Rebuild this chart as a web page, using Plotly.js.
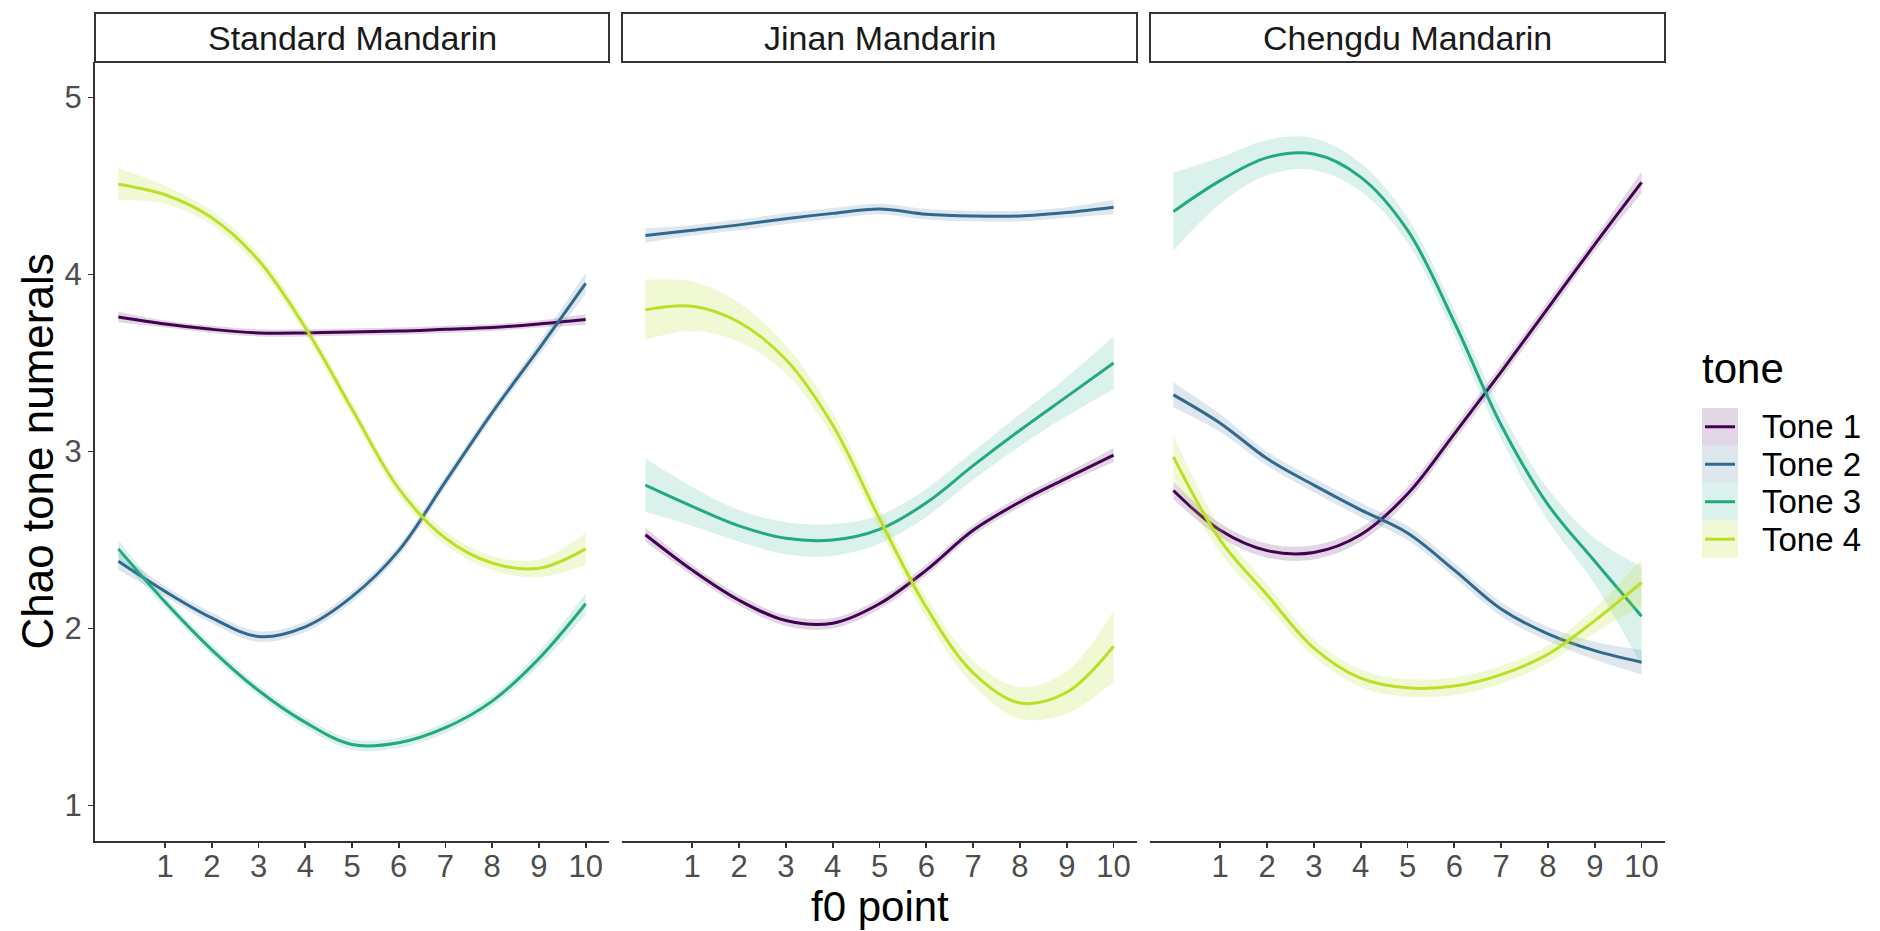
<!DOCTYPE html>
<html><head><meta charset="utf-8">
<script src="https://cdn.plot.ly/plotly-3.0.1.min.js"></script>
<style>html,body{margin:0;padding:0;background:#fff}#chart{width:1880px;height:931px}</style>
</head><body><div id="chart"></div>
<script>
// ---------- data ----------
const points = [0, 1, 2, 3, 4, 5, 6, 7, 8, 9, 10];
const xTickValues = [1, 2, 3, 4, 5, 6, 7, 8, 9, 10];
const yTickValues = [1, 2, 3, 4, 5];
const dialects = ["Standard Mandarin", "Jinan Mandarin", "Chengdu Mandarin"];
const tones = ["Tone 1", "Tone 2", "Tone 3", "Tone 4"];

// smoothed mean (Chao tone numerals) at each f0 point
const standardTone1 = [3.76, 3.72, 3.69, 3.67, 3.67, 3.675, 3.68, 3.69, 3.70, 3.72, 3.745];
const standardTone2 = [2.38, 2.21, 2.06, 1.955, 2.01, 2.18, 2.44, 2.83, 3.22, 3.58, 3.95];
const standardTone3 = [2.45, 2.15, 1.88, 1.65, 1.47, 1.345, 1.355, 1.44, 1.59, 1.83, 2.14];
const standardTone4 = [4.51, 4.45, 4.32, 4.08, 3.70, 3.24, 2.79, 2.51, 2.37, 2.34, 2.45];

const jinanTone1 = [2.53, 2.33, 2.16, 2.045, 2.03, 2.14, 2.33, 2.555, 2.715, 2.85, 2.98];
const jinanTone2 = [4.22, 4.25, 4.28, 4.315, 4.345, 4.37, 4.34, 4.33, 4.33, 4.35, 4.38];
const jinanTone3 = [2.81, 2.69, 2.58, 2.51, 2.50, 2.56, 2.71, 2.92, 3.12, 3.31, 3.50];
const jinanTone4 = [3.80, 3.82, 3.73, 3.52, 3.15, 2.62, 2.12, 1.75, 1.58, 1.64, 1.90];

const chengduTone1 = [2.78, 2.555, 2.44, 2.43, 2.53, 2.76, 3.10, 3.45, 3.81, 4.17, 4.52];
const chengduTone2 = [3.32, 3.16, 2.96, 2.81, 2.67, 2.54, 2.33, 2.11, 1.97, 1.875, 1.81];
const chengduTone3 = [4.355, 4.53, 4.66, 4.68, 4.55, 4.25, 3.73, 3.15, 2.70, 2.38, 2.07];
const chengduTone4 = [2.97, 2.50, 2.19, 1.89, 1.72, 1.665, 1.675, 1.74, 1.855, 2.045, 2.26];

// half-width of the confidence band at each f0 point
const standardBand1 = [0.03, 0.02, 0.02, 0.02, 0.02, 0.02, 0.02, 0.02, 0.02, 0.02, 0.03];
const standardBand2 = [0.05, 0.03, 0.03, 0.03, 0.03, 0.03, 0.03, 0.03, 0.03, 0.04, 0.06];
const standardBand3 = [0.05, 0.03, 0.03, 0.03, 0.03, 0.03, 0.03, 0.03, 0.03, 0.04, 0.06];
const standardBand4 = [0.09, 0.05, 0.04, 0.04, 0.04, 0.04, 0.04, 0.04, 0.04, 0.05, 0.09];

const jinanBand1 = [0.04, 0.03, 0.03, 0.03, 0.03, 0.03, 0.03, 0.03, 0.03, 0.03, 0.04];
const jinanBand2 = [0.04, 0.03, 0.03, 0.03, 0.03, 0.03, 0.03, 0.03, 0.03, 0.03, 0.04];
const jinanBand3 = [0.15, 0.11, 0.09, 0.09, 0.09, 0.08, 0.08, 0.08, 0.09, 0.11, 0.15];
const jinanBand4 = [0.17, 0.14, 0.11, 0.08, 0.07, 0.06, 0.06, 0.07, 0.09, 0.12, 0.20];

const chengduBand1 = [0.05, 0.04, 0.04, 0.04, 0.04, 0.04, 0.04, 0.04, 0.04, 0.04, 0.06];
const chengduBand2 = [0.07, 0.05, 0.04, 0.04, 0.04, 0.04, 0.04, 0.04, 0.04, 0.05, 0.07];
const chengduBand3 = [0.22, 0.13, 0.10, 0.09, 0.08, 0.07, 0.07, 0.08, 0.09, 0.13, 0.28];
const chengduBand4 = [0.12, 0.07, 0.06, 0.05, 0.05, 0.05, 0.05, 0.05, 0.05, 0.07, 0.13];

// ---------- styling / layout ----------
const lineColors = ["#440154", "#31688E", "#22A884", "#BBDF27"];
const fillColors = ["rgba(68,1,84,0.16)", "rgba(49,104,142,0.16)", "rgba(34,168,132,0.16)", "rgba(187,223,39,0.2)"];
const FONT = "Liberation Sans, Arial, Helvetica, sans-serif";
const W = 1880, H = 931;
const fx = v => v / W;
const fy = v => 1 - v / H;
const panelLeft = [95, 622, 1150];
const panelRight = [609, 1137, 1665];
const panelTop = 62, panelBottom = 841, stripTop = 13;

const means = [
  [standardTone1, standardTone2, standardTone3, standardTone4],
  [jinanTone1, jinanTone2, jinanTone3, jinanTone4],
  [chengduTone1, chengduTone2, chengduTone3, chengduTone4]
];
const bands = [
  [standardBand1, standardBand2, standardBand3, standardBand4],
  [jinanBand1, jinanBand2, jinanBand3, jinanBand4],
  [chengduBand1, chengduBand2, chengduBand3, chengduBand4]
];

const traces = [];
dialects.forEach((d, p) => {
  const xa = p === 0 ? "x" : "x" + (p + 1);
  const ya = p === 0 ? "y" : "y" + (p + 1);
  tones.forEach((t, k) => {
    const m = means[p][k], b = bands[p][k];
    traces.push({
      x: points, y: m.map((v, i) => v + b[i]), xaxis: xa, yaxis: ya,
      mode: "lines", line: {width: 0, shape: "spline", smoothing: 1, color: fillColors[k]},
      showlegend: false, hoverinfo: "skip", type: "scatter"
    });
    traces.push({
      x: points, y: m.map((v, i) => v - b[i]), xaxis: xa, yaxis: ya,
      mode: "lines", line: {width: 0, shape: "spline", smoothing: 1, color: fillColors[k]},
      fill: "tonexty", fillcolor: fillColors[k],
      showlegend: false, hoverinfo: "skip", type: "scatter"
    });
    traces.push({
      x: points, y: m, xaxis: xa, yaxis: ya, name: t,
      mode: "lines", line: {width: 3, shape: "spline", smoothing: 1, color: lineColors[k]},
      showlegend: false, type: "scatter"
    });
  });
});

function xAxis(p) {
  return {
    domain: [fx(panelLeft[p]), fx(panelRight[p])], range: [-0.5, 10.5],
    anchor: p === 0 ? "y" : "y" + (p + 1),
    tickmode: "array", tickvals: xTickValues, ticktext: xTickValues.map(String),
    ticks: "outside", ticklen: 5, tickwidth: 1.8, tickcolor: "#333333",
    ticklabelstandoff: -8,
    showline: true, linecolor: "#333333", linewidth: 2,
    showgrid: false, zeroline: false,
    tickfont: {family: FONT, size: 31, color: "#4D4D4D"}, fixedrange: true
  };
}
function yAxis(p) {
  const a = {
    domain: [fy(panelBottom), fy(panelTop)], range: [0.8, 5.2],
    anchor: p === 0 ? "x" : "x" + (p + 1),
    showgrid: false, zeroline: false, fixedrange: true
  };
  if (p === 0) {
    Object.assign(a, {
      tickmode: "array", tickvals: yTickValues, ticktext: yTickValues.map(String),
      ticks: "outside", ticklen: 5, tickwidth: 1.8, tickcolor: "#333333",
      showline: true, linecolor: "#333333", linewidth: 2,
      tickfont: {family: FONT, size: 31, color: "#4D4D4D"}
    });
  } else {
    Object.assign(a, {showticklabels: false, ticks: "", showline: false});
  }
  return a;
}

const shapes = [];
const annotations = [];
dialects.forEach((d, p) => {
  shapes.push({
    type: "rect", xref: "paper", yref: "paper",
    x0: fx(panelLeft[p]), x1: fx(panelRight[p]), y0: fy(panelTop), y1: fy(stripTop),
    line: {color: "#333333", width: 2}, fillcolor: "#FFFFFF"
  });
  annotations.push({
    xref: "paper", yref: "paper", x: fx((panelLeft[p] + panelRight[p]) / 2), y: fy((stripTop + panelTop) / 2 + 1),
    xanchor: "center", yanchor: "middle", showarrow: false, text: d,
    font: {family: FONT, size: 34, color: "#1A1A1A"}
  });
});

// axis titles
annotations.push({
  xref: "paper", yref: "paper", x: fx(37), y: fy((panelTop + panelBottom) / 2),
  xanchor: "center", yanchor: "middle", showarrow: false, textangle: -90,
  text: "Chao tone numerals", font: {family: FONT, size: 44, color: "#000000"}
});
annotations.push({
  xref: "paper", yref: "paper", x: fx((panelLeft[1] + panelRight[1]) / 2), y: fy(906),
  xanchor: "center", yanchor: "middle", showarrow: false,
  text: "f0 point", font: {family: FONT, size: 42, color: "#000000"}
});

// legend (drawn as keys + text)
annotations.push({
  xref: "paper", yref: "paper", x: fx(1700), y: fy(368),
  xanchor: "left", yanchor: "middle", showarrow: false,
  text: "tone", font: {family: FONT, size: 42, color: "#000000"}
});
const keyTop = 408, keyH = 37.5;
tones.forEach((t, k) => {
  const y0 = keyTop + k * keyH, y1 = y0 + keyH, yc = (y0 + y1) / 2;
  shapes.push({
    type: "rect", xref: "paper", yref: "paper",
    x0: fx(1702), x1: fx(1738), y0: fy(y1), y1: fy(y0),
    line: {width: 0}, fillcolor: fillColors[k]
  });
  shapes.push({
    type: "line", xref: "paper", yref: "paper",
    x0: fx(1705), x1: fx(1735), y0: fy(yc), y1: fy(yc),
    line: {color: lineColors[k], width: 3}
  });
  annotations.push({
    xref: "paper", yref: "paper", x: fx(1760), y: fy(yc),
    xanchor: "left", yanchor: "middle", showarrow: false,
    text: t, font: {family: FONT, size: 33, color: "#000000"}
  });
});

const layout = {
  width: W, height: H,
  margin: {l: 0, r: 0, t: 0, b: 0, pad: 0},
  paper_bgcolor: "#FFFFFF", plot_bgcolor: "rgba(0,0,0,0)",
  showlegend: false,
  font: {family: FONT},
  xaxis: xAxis(0), xaxis2: xAxis(1), xaxis3: xAxis(2),
  yaxis: yAxis(0), yaxis2: yAxis(1), yaxis3: yAxis(2),
  shapes: shapes, annotations: annotations
};

Plotly.newPlot("chart", traces, layout, {staticPlot: true, displayModeBar: false});
</script>
</body></html>
